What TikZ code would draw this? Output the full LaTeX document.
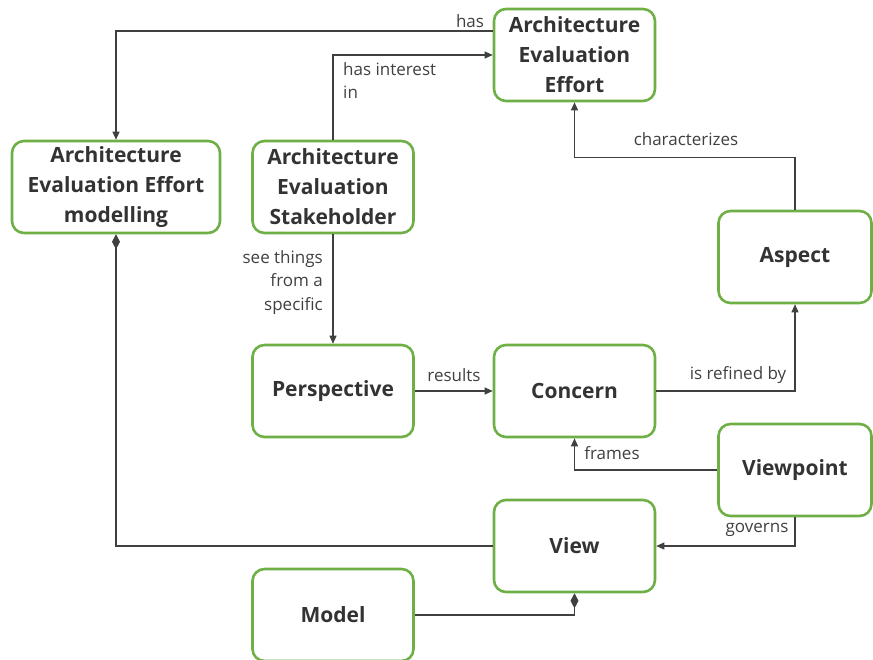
\documentclass[tikz,border=0pt]{standalone}
\usepackage{fontspec}
\setmainfont{Open Sans}
\usetikzlibrary{arrows.meta,calc}
\definecolor{boxgreen}{HTML}{6EAF46}
\definecolor{textgray}{HTML}{333333}
\definecolor{linegray}{HTML}{404040}
\begin{document}
\begin{tikzpicture}[x=1pt,y=-1pt,
  box/.style={draw=boxgreen, line width=2.6pt, rounded corners=12pt, fill=white,
    minimum width=161pt, minimum height=92pt, align=center, inner sep=0pt,
    font=\fontsize{21}{30}\selectfont\bfseries, text=textgray},
  lbl/.style={font=\fontsize{17}{23.5}\selectfont, text=linegray, inner sep=0pt},
  conn/.style={draw=linegray, line width=1.1pt},
  arr/.style={conn, -{Triangle[length=8pt,width=7pt]}},
  dia/.style={conn, -{Diamond[length=15pt,width=8pt]}}]
\useasboundingbox (0,0) rectangle (873,659);
\node[box] (AEE) at (574.5,55) {Architecture\\Evaluation\\Effort};
\node[box, minimum width=208pt] (AEEM) at (116,187) {Architecture\\Evaluation Effort\\modelling};
\node[box] (AES) at (333,187) {Architecture\\Evaluation\\Stakeholder};
\node[box, minimum width=153pt] (Asp) at (795,257) {Aspect};
\node[box] (Persp) at (333,391) {Perspective};
\node[box] (Con) at (574.5,391) {Concern};
\node[box, minimum width=153pt] (VP) at (795,470) {Viewpoint};
\node[box] (View) at (574.5,546) {View};
\node[box] (Model) at (333,615) {Model};

\draw[arr] ([yshift=24pt]AEE.west) -| (AEEM.north);
\draw[arr] (AES.north) |- (AEE.west);
\draw[arr] (Asp.north) |- ($(AEE.south)+(0,55)$) -- (AEE.south);
\draw[arr] (AES.south) -- (Persp.north);
\draw[arr] (Persp.east) -- (Con.west);
\draw[arr] (Con.east) -| (Asp.south);
\draw[arr] (VP.west) -| (Con.south);
\draw[arr] (VP.south) |- (View.east);
\draw[dia] (View.west) -| (AEEM.south);
\draw[dia] (Model.east) -| (View.south);

\node[lbl] (lhas) at (470,21) {has};
\node[lbl, anchor=north west, align=left] (lint) at (343,62) {has interest\\in};
\node[lbl] (lchar) at (686,139) {characterizes};
\node[lbl, anchor=north east, align=right] (lsee) at (323,250) {see things\\from a\\specific};
\node[lbl] (lres) at (454,375) {results};
\node[lbl] (lref) at (738,375) {is refined by};
\node[lbl] (lfr) at (612,453) {frames};
\node[lbl] (lgov) at (757,530) {governs};
\end{tikzpicture}
\end{document}
